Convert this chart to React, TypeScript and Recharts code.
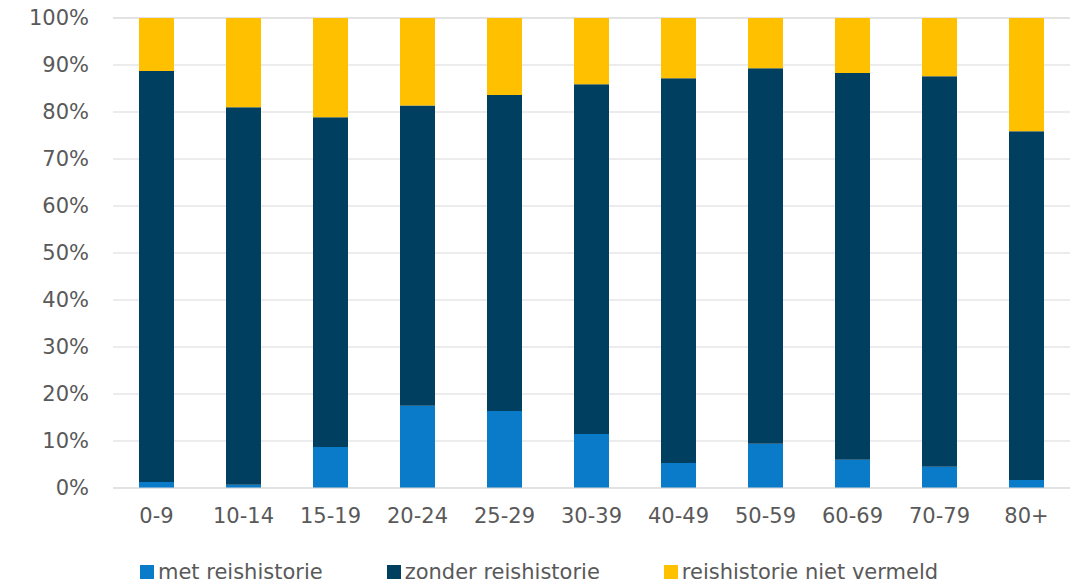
import React from "react";
import { BarChart, Bar, XAxis, YAxis, CartesianGrid, Legend } from "recharts";

const categories = ["0-9", "10-14", "15-19", "20-24", "25-29", "30-39", "40-49", "50-59", "60-69", "70-79", "80+"];
const metReis = [1.3, 0.7, 8.7, 17.5, 16.4, 11.5, 5.3, 9.4, 6.0, 4.5, 1.7];
const zonderReis = [87.4, 80.3, 70.2, 63.9, 67.2, 74.4, 81.9, 79.9, 82.3, 83.1, 74.2];
const nietVermeld = [11.3, 19.0, 21.1, 18.6, 16.4, 14.1, 12.8, 10.7, 11.7, 12.4, 24.1];
const yTicks = [0, 10, 20, 30, 40, 50, 60, 70, 80, 90, 100];

const series = [
  { key: "met", name: "met reishistorie", color: "#0a7bc9" },
  { key: "zonder", name: "zonder reishistorie", color: "#003f5f" },
  { key: "niet", name: "reishistorie niet vermeld", color: "#ffc000" },
];

const data = categories.map((c, i) => ({
  name: c,
  met: metReis[i],
  zonder: zonderReis[i],
  niet: nietVermeld[i],
}));

const fontFamily = "'DejaVu Sans', Verdana, sans-serif";
const font = { fontFamily, fontSize: 21, fill: "#595959" };

const LegendContent = () => (
  <div style={{ display: "flex", justifyContent: "center", gap: 64, fontFamily, fontSize: 21, color: "#595959", paddingLeft: 8 }}>
    {series.map((s) => (
      <div key={s.key} style={{ display: "flex", alignItems: "center", gap: 4 }}>
        <span style={{ width: 14, height: 14, background: s.color, display: "inline-block" }} />
        <span>{s.name}</span>
      </div>
    ))}
  </div>
);

export default function App() {
  return (
    <div style={{ position: "absolute", left: 0, top: 0, background: "#fff" }}>
      <BarChart
        width={1082}
        height={587}
        data={data}
        margin={{ top: 18, right: 12, left: 0, bottom: 25 }}
      >
        <CartesianGrid vertical={false} stroke="#d9d9d9" />
        <XAxis
          dataKey="name"
          tick={font}
          tickLine={false}
          axisLine={{ stroke: "#d9d9d9" }}
          tickMargin={14}
          height={50}
        />
        <YAxis
          domain={[0, 100]}
          ticks={yTicks}
          tickFormatter={(v) => `${v}%`}
          tick={font}
          tickLine={false}
          axisLine={false}
          width={113}
          tickMargin={18}
        />
        <Legend verticalAlign="bottom" content={LegendContent} wrapperStyle={{ bottom: 3 }} />
        {series.map((s) => (
          <Bar key={s.key} dataKey={s.key} name={s.name} stackId="a" fill={s.color} barSize={35} isAnimationActive={false} />
        ))}
      </BarChart>
    </div>
  );
}
